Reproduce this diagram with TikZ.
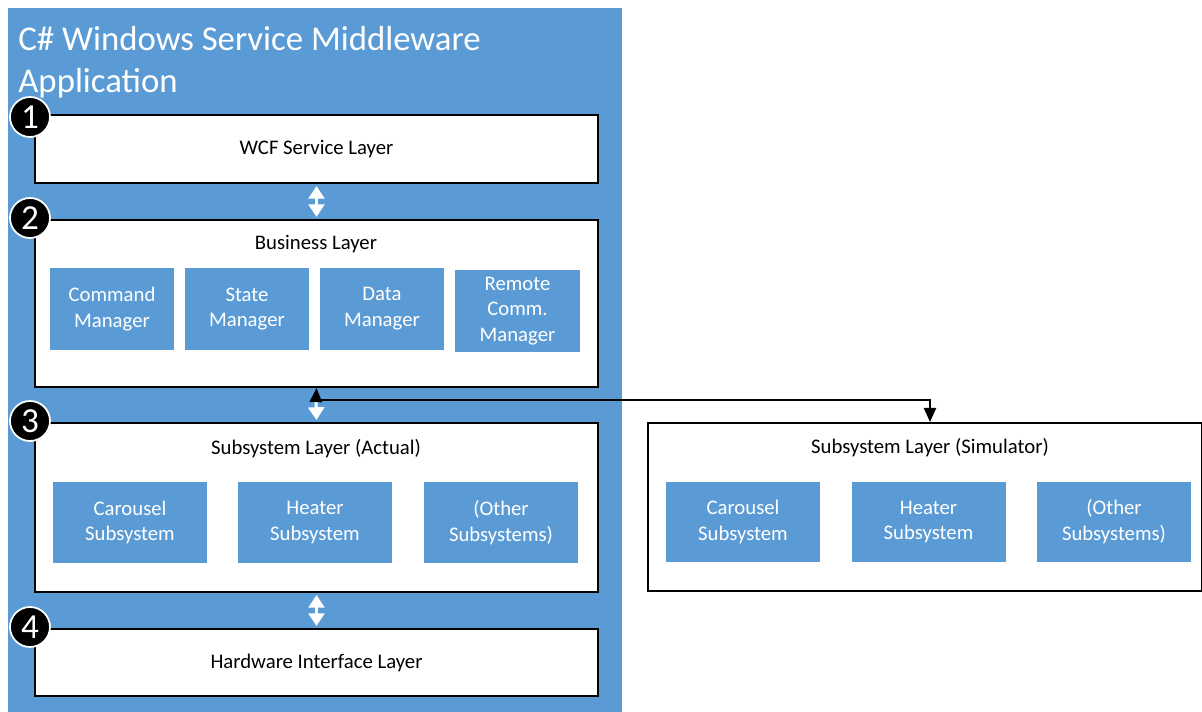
\documentclass[tikz,border=0pt]{standalone}
\usepackage{fontspec}
\setmainfont{Carlito}
\usetikzlibrary{arrows.meta}
\definecolor{appblue}{HTML}{5B9BD5}
\tikzset{
    layer/.style={draw=black, fill=white, line width=1.2pt, minimum width=11.26cm, inner sep=0pt, font=\fontsize{11.8}{14.7}\selectfont},
    part/.style={fill=appblue, text=white, align=center, inner sep=0pt, font=\fontsize{11.8}{14.7}\selectfont},
    lbl/.style={font=\fontsize{11.8}{14.7}\selectfont, inner sep=0pt},
    num/.style={circle, fill=black, draw=white, line width=1pt, minimum size=0.8cm, inner sep=0pt, text=white, font=\fontsize{20}{20}\selectfont},
    warr/.style={{Triangle[width=9pt,length=7.2pt]}-{Triangle[width=9pt,length=7.2pt]}, white, line width=1.8pt},
    barr/.style={{Triangle[width=7pt,length=8pt]}-{Triangle[width=7pt,length=8pt]}, black, line width=0.9pt}
}
\begin{document}
\begin{tikzpicture}[x=0.02cm, y=-0.02cm]
    \useasboundingbox (0,0) rectangle (1202,712);

    % Application container
    \fill[appblue] (8,8) rectangle (622,712);
    \node[anchor=north west, align=left, text=white, inner sep=0pt,
          font=\fontsize{19.8}{23.8}\selectfont] (title) at (18,26)
        {C\# Windows Service Middleware\\Application};

    % Layers
    \node[layer, minimum height=1.36cm] (wcf) at (316.5,149) {WCF Service Layer};
    \node[layer, minimum height=3.34cm] (biz) at (316.5,303.5) {};
    \node[layer, minimum height=3.38cm] (sub) at (316.5,507.5) {};
    \node[layer, minimum height=1.34cm] (hw) at (316.5,662.5) {Hardware Interface Layer};
    \node[layer, minimum width=11.08cm, minimum height=3.36cm] (sim) at (925,507) {};

    % Layer titles
    \node[lbl] (bizlbl) at (316,244) {Business Layer};
    \node[lbl] (sublbl) at (316,449) {Subsystem Layer (Actual)};
    \node[lbl] (simlbl) at (930,448) {Subsystem Layer (Simulator)};

    % Business parts
    \node[part, minimum width=2.48cm, minimum height=1.64cm] (cmd) at (112,309) {Command\\Manager};
    \node[part, minimum width=2.48cm, minimum height=1.64cm] (state) at (247,309) {State\\Manager};
    \node[part, minimum width=2.48cm, minimum height=1.64cm] (data) at (382,309) {Data\\Manager};
    \node[part, minimum width=2.5cm, minimum height=1.64cm] (remote) at (517.5,311) {Remote\\Comm.\\Manager};

    % Actual subsystems
    \node[part, minimum width=3.08cm, minimum height=1.62cm] (carousel) at (130,522.5) {Carousel\\Subsystem};
    \node[part, minimum width=3.08cm, minimum height=1.62cm] (heater) at (315,522.5) {Heater\\Subsystem};
    \node[part, minimum width=3.08cm, minimum height=1.62cm] (other) at (501,522.5) {(Other\\Subsystems)};

    % Simulated subsystems
    \node[part, minimum width=3.08cm, minimum height=1.62cm] (simcarousel) at (743,522) {Carousel\\Subsystem};
    \node[part, minimum width=3.08cm, minimum height=1.62cm] (simheater) at (928.5,522) {Heater\\Subsystem};
    \node[part, minimum width=3.08cm, minimum height=1.62cm] (simother) at (1114,522) {(Other\\Subsystems)};

    % Numbers
    \node[num] (n1) at (30,117) {1};
    \node[num] (n2) at (30,218) {2};
    \node[num] (n3) at (30,421) {3};
    \node[num] (n4) at (30,627) {4};

    % Arrows
    \coordinate (turn) at (316,400);
    \draw[warr] ([yshift=-0.04cm]wcf.south) -- ([yshift=0.04cm]biz.north);
    \draw[warr, -{Triangle[width=9pt,length=7.2pt]}] (turn) -- ([yshift=0.04cm]sub.north);
    \draw[warr] ([yshift=-0.04cm]sub.south) -- ([yshift=0.04cm]hw.north);
    \draw[barr] (biz.south) -- (turn) -| (sim.north -| 930,0);
\end{tikzpicture}
\end{document}
